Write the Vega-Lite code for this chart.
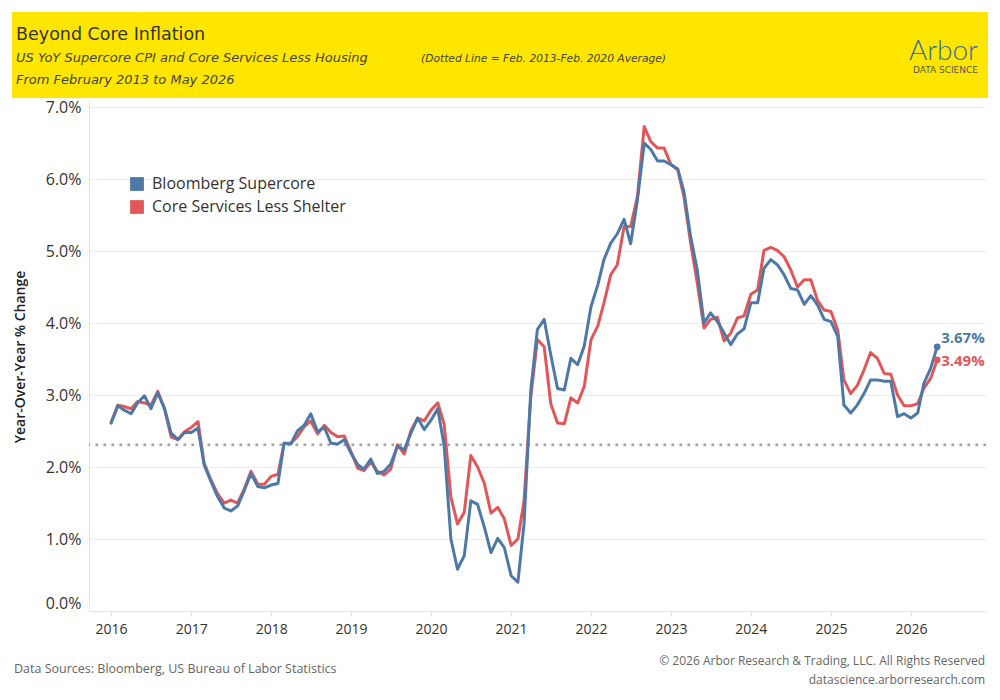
{
  "$schema": "https://vega.github.io/schema/vega-lite/v6.json",
  "background": "white",
  "padding": {"left": 12, "top": 12, "right": 12, "bottom": 0},
  "config": {"view": {"stroke": null}, "font": "Open Sans"},
  "spacing": -2,
  "vconcat": [
    {
      "spacing": 0,
      "hconcat": [
        {
          "width": 404, "height": 86,
          "view": {"fill": "#FFE600", "stroke": null},
          "data": {"values": [{}]},
          "mark": {"type": "text"},
          "encoding": {},
          "title": {
            "text": "Beyond Core Inflation",
            "subtitle": ["US YoY Supercore CPI and Core Services Less Housing", "From February 2013 to May 2026"],
            "orient": "top", "anchor": "start", "frame": "group", "offset": -75, "dx": 4,
            "font": "DejaVu Sans", "fontSize": 17.5, "fontWeight": "normal", "color": "#333333",
            "subtitleFont": "DejaVu Sans", "subtitleFontSize": 13, "subtitleFontStyle": "italic",
            "subtitleColor": "#444444", "subtitlePadding": 9, "subtitleLineHeight": 21.6
          }
        },
        {
          "width": 472, "height": 86,
          "view": {"fill": "#FFE600", "stroke": null},
          "data": {"values": [{}]},
          "mark": {"type": "text"},
          "encoding": {},
          "title": {
            "text": "(Dotted Line = Feb. 2013-Feb. 2020 Average)",
            "orient": "top", "anchor": "start", "frame": "group", "offset": -53, "dx": 5,
            "font": "DejaVu Sans", "fontSize": 10.7, "fontStyle": "italic", "fontWeight": "normal", "color": "#444444"
          }
        },
        {
          "width": 100, "height": 86,
          "view": {"fill": "#FFE600", "stroke": null},
          "data": {"values": [{}]},
          "mark": {"type": "text"},
          "encoding": {},
          "title": {
            "text": "Arbor",
            "subtitle": "DATA SCIENCE",
            "orient": "top", "anchor": "end", "frame": "group", "offset": -63, "dx": -10,
            "font": "Lato", "fontSize": 28, "fontWeight": 300, "color": "#3A6EA5",
            "subtitleFont": "DejaVu Sans", "subtitleFontSize": 9, "subtitleColor": "#5B5B45", "subtitlePadding": 0
          }
        }
      ]
    },
    {
      "spacing": 0,
      "hconcat": [
        {
          "width": 1, "height": 1,
          "data": {"values": [{}]},
          "mark": {"type": "text"},
          "encoding": {}
        },
        {
          "width": 897,
          "height": 509,
          "data": {"values": [
            {"d": "2016-01-01", "Bloomberg Supercore": 0.0261, "Core Services Less Shelter": 0.0262},
            {"d": "2016-02-01", "Bloomberg Supercore": 0.0285, "Core Services Less Shelter": 0.0286},
            {"d": "2016-03-01", "Bloomberg Supercore": 0.0279, "Core Services Less Shelter": 0.0284},
            {"d": "2016-04-01", "Bloomberg Supercore": 0.0274, "Core Services Less Shelter": 0.0281},
            {"d": "2016-05-01", "Bloomberg Supercore": 0.0289, "Core Services Less Shelter": 0.0291},
            {"d": "2016-06-01", "Bloomberg Supercore": 0.0299, "Core Services Less Shelter": 0.0289},
            {"d": "2016-07-01", "Bloomberg Supercore": 0.0281, "Core Services Less Shelter": 0.0286},
            {"d": "2016-08-01", "Bloomberg Supercore": 0.0303, "Core Services Less Shelter": 0.0305},
            {"d": "2016-09-01", "Bloomberg Supercore": 0.0281, "Core Services Less Shelter": 0.0281},
            {"d": "2016-10-01", "Bloomberg Supercore": 0.0247, "Core Services Less Shelter": 0.0242},
            {"d": "2016-11-01", "Bloomberg Supercore": 0.0238, "Core Services Less Shelter": 0.0238},
            {"d": "2016-12-01", "Bloomberg Supercore": 0.0248, "Core Services Less Shelter": 0.0249},
            {"d": "2017-01-01", "Bloomberg Supercore": 0.0248, "Core Services Less Shelter": 0.0255},
            {"d": "2017-02-01", "Bloomberg Supercore": 0.0254, "Core Services Less Shelter": 0.0263},
            {"d": "2017-03-01", "Bloomberg Supercore": 0.0203, "Core Services Less Shelter": 0.0205},
            {"d": "2017-04-01", "Bloomberg Supercore": 0.0180, "Core Services Less Shelter": 0.0182},
            {"d": "2017-05-01", "Bloomberg Supercore": 0.0159, "Core Services Less Shelter": 0.0163},
            {"d": "2017-06-01", "Bloomberg Supercore": 0.0143, "Core Services Less Shelter": 0.0150},
            {"d": "2017-07-01", "Bloomberg Supercore": 0.0139, "Core Services Less Shelter": 0.0154},
            {"d": "2017-08-01", "Bloomberg Supercore": 0.0146, "Core Services Less Shelter": 0.0150},
            {"d": "2017-09-01", "Bloomberg Supercore": 0.0168, "Core Services Less Shelter": 0.0170},
            {"d": "2017-10-01", "Bloomberg Supercore": 0.0191, "Core Services Less Shelter": 0.0194},
            {"d": "2017-11-01", "Bloomberg Supercore": 0.0173, "Core Services Less Shelter": 0.0176},
            {"d": "2017-12-01", "Bloomberg Supercore": 0.0171, "Core Services Less Shelter": 0.0176},
            {"d": "2018-01-01", "Bloomberg Supercore": 0.0175, "Core Services Less Shelter": 0.0187},
            {"d": "2018-02-01", "Bloomberg Supercore": 0.0177, "Core Services Less Shelter": 0.0190},
            {"d": "2018-03-01", "Bloomberg Supercore": 0.0233, "Core Services Less Shelter": 0.0233},
            {"d": "2018-04-01", "Bloomberg Supercore": 0.0232, "Core Services Less Shelter": 0.0233},
            {"d": "2018-05-01", "Bloomberg Supercore": 0.0250, "Core Services Less Shelter": 0.0242},
            {"d": "2018-06-01", "Bloomberg Supercore": 0.0258, "Core Services Less Shelter": 0.0256},
            {"d": "2018-07-01", "Bloomberg Supercore": 0.0274, "Core Services Less Shelter": 0.0264},
            {"d": "2018-08-01", "Bloomberg Supercore": 0.0249, "Core Services Less Shelter": 0.0246},
            {"d": "2018-09-01", "Bloomberg Supercore": 0.0255, "Core Services Less Shelter": 0.0258},
            {"d": "2018-10-01", "Bloomberg Supercore": 0.0233, "Core Services Less Shelter": 0.0248},
            {"d": "2018-11-01", "Bloomberg Supercore": 0.0232, "Core Services Less Shelter": 0.0242},
            {"d": "2018-12-01", "Bloomberg Supercore": 0.0238, "Core Services Less Shelter": 0.0243},
            {"d": "2019-01-01", "Bloomberg Supercore": 0.0219, "Core Services Less Shelter": 0.0221},
            {"d": "2019-02-01", "Bloomberg Supercore": 0.0203, "Core Services Less Shelter": 0.0198},
            {"d": "2019-03-01", "Bloomberg Supercore": 0.0197, "Core Services Less Shelter": 0.0195},
            {"d": "2019-04-01", "Bloomberg Supercore": 0.0211, "Core Services Less Shelter": 0.0207},
            {"d": "2019-05-01", "Bloomberg Supercore": 0.0191, "Core Services Less Shelter": 0.0194},
            {"d": "2019-06-01", "Bloomberg Supercore": 0.0194, "Core Services Less Shelter": 0.0189},
            {"d": "2019-07-01", "Bloomberg Supercore": 0.0204, "Core Services Less Shelter": 0.0197},
            {"d": "2019-08-01", "Bloomberg Supercore": 0.0229, "Core Services Less Shelter": 0.0231},
            {"d": "2019-09-01", "Bloomberg Supercore": 0.0224, "Core Services Less Shelter": 0.0218},
            {"d": "2019-10-01", "Bloomberg Supercore": 0.0247, "Core Services Less Shelter": 0.0250},
            {"d": "2019-11-01", "Bloomberg Supercore": 0.0268, "Core Services Less Shelter": 0.0268},
            {"d": "2019-12-01", "Bloomberg Supercore": 0.0252, "Core Services Less Shelter": 0.0264},
            {"d": "2020-01-01", "Bloomberg Supercore": 0.0265, "Core Services Less Shelter": 0.0279},
            {"d": "2020-02-01", "Bloomberg Supercore": 0.0281, "Core Services Less Shelter": 0.0289},
            {"d": "2020-03-01", "Bloomberg Supercore": 0.0230, "Core Services Less Shelter": 0.0260},
            {"d": "2020-04-01", "Bloomberg Supercore": 0.0100, "Core Services Less Shelter": 0.0158},
            {"d": "2020-05-01", "Bloomberg Supercore": 0.0058, "Core Services Less Shelter": 0.0121},
            {"d": "2020-06-01", "Bloomberg Supercore": 0.0077, "Core Services Less Shelter": 0.0137},
            {"d": "2020-07-01", "Bloomberg Supercore": 0.0153, "Core Services Less Shelter": 0.0216},
            {"d": "2020-08-01", "Bloomberg Supercore": 0.0148, "Core Services Less Shelter": 0.0200},
            {"d": "2020-09-01", "Bloomberg Supercore": 0.0116, "Core Services Less Shelter": 0.0177},
            {"d": "2020-10-01", "Bloomberg Supercore": 0.0081, "Core Services Less Shelter": 0.0136},
            {"d": "2020-11-01", "Bloomberg Supercore": 0.0101, "Core Services Less Shelter": 0.0144},
            {"d": "2020-12-01", "Bloomberg Supercore": 0.0088, "Core Services Less Shelter": 0.0128},
            {"d": "2021-01-01", "Bloomberg Supercore": 0.0049, "Core Services Less Shelter": 0.0091},
            {"d": "2021-02-01", "Bloomberg Supercore": 0.0040, "Core Services Less Shelter": 0.0100},
            {"d": "2021-03-01", "Bloomberg Supercore": 0.0121, "Core Services Less Shelter": 0.0153},
            {"d": "2021-04-01", "Bloomberg Supercore": 0.0307, "Core Services Less Shelter": 0.0298},
            {"d": "2021-05-01", "Bloomberg Supercore": 0.0391, "Core Services Less Shelter": 0.0377},
            {"d": "2021-06-01", "Bloomberg Supercore": 0.0405, "Core Services Less Shelter": 0.0367},
            {"d": "2021-07-01", "Bloomberg Supercore": 0.0356, "Core Services Less Shelter": 0.0288},
            {"d": "2021-08-01", "Bloomberg Supercore": 0.0309, "Core Services Less Shelter": 0.0261},
            {"d": "2021-09-01", "Bloomberg Supercore": 0.0307, "Core Services Less Shelter": 0.0260},
            {"d": "2021-10-01", "Bloomberg Supercore": 0.0351, "Core Services Less Shelter": 0.0296},
            {"d": "2021-11-01", "Bloomberg Supercore": 0.0342, "Core Services Less Shelter": 0.0289},
            {"d": "2021-12-01", "Bloomberg Supercore": 0.0368, "Core Services Less Shelter": 0.0312},
            {"d": "2022-01-01", "Bloomberg Supercore": 0.0423, "Core Services Less Shelter": 0.0377},
            {"d": "2022-02-01", "Bloomberg Supercore": 0.0453, "Core Services Less Shelter": 0.0396},
            {"d": "2022-03-01", "Bloomberg Supercore": 0.0488, "Core Services Less Shelter": 0.0428},
            {"d": "2022-04-01", "Bloomberg Supercore": 0.0511, "Core Services Less Shelter": 0.0467},
            {"d": "2022-05-01", "Bloomberg Supercore": 0.0524, "Core Services Less Shelter": 0.0481},
            {"d": "2022-06-01", "Bloomberg Supercore": 0.0544, "Core Services Less Shelter": 0.0534},
            {"d": "2022-07-01", "Bloomberg Supercore": 0.0510, "Core Services Less Shelter": 0.0534},
            {"d": "2022-08-01", "Bloomberg Supercore": 0.0571, "Core Services Less Shelter": 0.0576},
            {"d": "2022-09-01", "Bloomberg Supercore": 0.0650, "Core Services Less Shelter": 0.0673},
            {"d": "2022-10-01", "Bloomberg Supercore": 0.0641, "Core Services Less Shelter": 0.0652},
            {"d": "2022-11-01", "Bloomberg Supercore": 0.0625, "Core Services Less Shelter": 0.0643},
            {"d": "2022-12-01", "Bloomberg Supercore": 0.0625, "Core Services Less Shelter": 0.0643},
            {"d": "2023-01-01", "Bloomberg Supercore": 0.0620, "Core Services Less Shelter": 0.0620},
            {"d": "2023-02-01", "Bloomberg Supercore": 0.0614, "Core Services Less Shelter": 0.0613},
            {"d": "2023-03-01", "Bloomberg Supercore": 0.0583, "Core Services Less Shelter": 0.0576},
            {"d": "2023-04-01", "Bloomberg Supercore": 0.0520, "Core Services Less Shelter": 0.0511},
            {"d": "2023-05-01", "Bloomberg Supercore": 0.0474, "Core Services Less Shelter": 0.0456},
            {"d": "2023-06-01", "Bloomberg Supercore": 0.0400, "Core Services Less Shelter": 0.0393},
            {"d": "2023-07-01", "Bloomberg Supercore": 0.0414, "Core Services Less Shelter": 0.0405},
            {"d": "2023-08-01", "Bloomberg Supercore": 0.0402, "Core Services Less Shelter": 0.0408},
            {"d": "2023-09-01", "Bloomberg Supercore": 0.0386, "Core Services Less Shelter": 0.0375},
            {"d": "2023-10-01", "Bloomberg Supercore": 0.0370, "Core Services Less Shelter": 0.0386},
            {"d": "2023-11-01", "Bloomberg Supercore": 0.0385, "Core Services Less Shelter": 0.0407},
            {"d": "2023-12-01", "Bloomberg Supercore": 0.0392, "Core Services Less Shelter": 0.0410},
            {"d": "2024-01-01", "Bloomberg Supercore": 0.0428, "Core Services Less Shelter": 0.0440},
            {"d": "2024-02-01", "Bloomberg Supercore": 0.0428, "Core Services Less Shelter": 0.0446},
            {"d": "2024-03-01", "Bloomberg Supercore": 0.0476, "Core Services Less Shelter": 0.0501},
            {"d": "2024-04-01", "Bloomberg Supercore": 0.0488, "Core Services Less Shelter": 0.0505},
            {"d": "2024-05-01", "Bloomberg Supercore": 0.0481, "Core Services Less Shelter": 0.0501},
            {"d": "2024-06-01", "Bloomberg Supercore": 0.0467, "Core Services Less Shelter": 0.0492},
            {"d": "2024-07-01", "Bloomberg Supercore": 0.0448, "Core Services Less Shelter": 0.0474},
            {"d": "2024-08-01", "Bloomberg Supercore": 0.0446, "Core Services Less Shelter": 0.0450},
            {"d": "2024-09-01", "Bloomberg Supercore": 0.0426, "Core Services Less Shelter": 0.0460},
            {"d": "2024-10-01", "Bloomberg Supercore": 0.0438, "Core Services Less Shelter": 0.0460},
            {"d": "2024-11-01", "Bloomberg Supercore": 0.0425, "Core Services Less Shelter": 0.0431},
            {"d": "2024-12-01", "Bloomberg Supercore": 0.0405, "Core Services Less Shelter": 0.0418},
            {"d": "2025-01-01", "Bloomberg Supercore": 0.0402, "Core Services Less Shelter": 0.0416},
            {"d": "2025-02-01", "Bloomberg Supercore": 0.0381, "Core Services Less Shelter": 0.0390},
            {"d": "2025-03-01", "Bloomberg Supercore": 0.0286, "Core Services Less Shelter": 0.0321},
            {"d": "2025-04-01", "Bloomberg Supercore": 0.0275, "Core Services Less Shelter": 0.0302},
            {"d": "2025-05-01", "Bloomberg Supercore": 0.0286, "Core Services Less Shelter": 0.0313},
            {"d": "2025-06-01", "Bloomberg Supercore": 0.0302, "Core Services Less Shelter": 0.0335},
            {"d": "2025-07-01", "Bloomberg Supercore": 0.0321, "Core Services Less Shelter": 0.0359},
            {"d": "2025-08-01", "Bloomberg Supercore": 0.0321, "Core Services Less Shelter": 0.0351},
            {"d": "2025-09-01", "Bloomberg Supercore": 0.0319, "Core Services Less Shelter": 0.0330},
            {"d": "2025-10-01", "Bloomberg Supercore": 0.0319, "Core Services Less Shelter": 0.0329},
            {"d": "2025-11-01", "Bloomberg Supercore": 0.0270, "Core Services Less Shelter": 0.0300},
            {"d": "2025-12-01", "Bloomberg Supercore": 0.0274, "Core Services Less Shelter": 0.0285},
            {"d": "2026-01-01", "Bloomberg Supercore": 0.0268, "Core Services Less Shelter": 0.0285},
            {"d": "2026-02-01", "Bloomberg Supercore": 0.0275, "Core Services Less Shelter": 0.0288},
            {"d": "2026-03-01", "Bloomberg Supercore": 0.0316, "Core Services Less Shelter": 0.0309},
            {"d": "2026-04-01", "Bloomberg Supercore": 0.0337, "Core Services Less Shelter": 0.0323},
            {"d": "2026-05-01", "Bloomberg Supercore": 0.0367, "Core Services Less Shelter": 0.0349}
          ]},
          "layer": [
            {
              "data": {"values": [{"avg": 0.0231}]},
              "mark": {"type": "rule", "color": "#A0A0A0", "strokeDash": [2.5, 5.5], "strokeWidth": 2.5},
              "encoding": {"y": {"field": "avg", "type": "quantitative", "title": "Year-Over-Year % Change"}}
            },
            {
              "transform": [{"fold": ["Core Services Less Shelter", "Bloomberg Supercore"], "as": ["series", "value"]}],
              "mark": {"type": "line", "strokeWidth": 3, "strokeJoin": "round", "strokeCap": "round"},
              "encoding": {
                "x": {
                  "field": "d", "type": "temporal", "title": null,
                  "scale": {"type": "utc", "domain": [{"year": 2015, "month": 9, "date": 22, "utc": true}, {"year": 2026, "month": 12, "date": 10, "utc": true}]},
                  "axis": {
                    "format": "%Y", "tickCount": {"interval": "year", "step": 1}, "grid": false,
                    "domain": true, "domainColor": "#E2E2E2", "ticks": true, "tickColor": "#E2E2E2", "tickSize": 5,
                    "labelFont": "Open Sans", "labelFontSize": 14, "labelColor": "#333333", "labelPadding": 6, "labelFlush": false
                  }
                },
                "y": {
                  "field": "value", "type": "quantitative", "title": "Year-Over-Year % Change",
                  "scale": {"domain": [0, 0.0707], "nice": false, "zero": false},
                  "axis": {
                    "values": [0, 0.01, 0.02, 0.03, 0.04, 0.05, 0.06, 0.07], "format": ".1%",
                    "grid": true, "gridColor": "#EDEDED", "domain": true, "domainColor": "#E2E2E2", "ticks": false,
                    "labelFont": "Open Sans", "labelFontSize": 16, "labelColor": "#333333", "labelPadding": 8, "labelFlush": true,
                    "titleFont": "Open Sans", "titleFontSize": 14, "titleFontWeight": 600, "titleColor": "#222222", "titlePadding": 18
                  }
                },
                "color": {
                  "field": "series", "type": "nominal",
                  "scale": {"domain": ["Bloomberg Supercore", "Core Services Less Shelter"], "range": ["#4E79A7", "#E15759"]},
                  "legend": {
                    "title": null, "orient": "none", "legendX": 117, "legendY": 164,
                    "symbolType": "square", "symbolSize": 190, "symbolStrokeWidth": 0,
                    "labelFont": "Open Sans", "labelFontSize": 16, "labelColor": "#333333", "labelOffset": 7, "rowPadding": 7, "labelLimit": 400,
                    "encode": {"symbols": {"update": {"fill": {"scale": "color", "field": "value"}, "fillOpacity": {"value": 1}, "strokeWidth": {"value": 0}}}}
                  }
                }
              }
            },
            {
              "transform": [
                {"fold": ["Core Services Less Shelter", "Bloomberg Supercore"], "as": ["series", "value"]},
                {"filter": "time(datum.d) === utc(2026, 4, 1)"}
              ],
              "mark": {"type": "point", "filled": true, "size": 45, "opacity": 1},
              "encoding": {
                "x": {"field": "d", "type": "temporal", "title": null},
                "y": {"field": "value", "type": "quantitative", "title": "Year-Over-Year % Change"},
                "color": {"field": "series", "type": "nominal", "legend": null}
              }
            },
            {
              "transform": [
                {"fold": ["Core Services Less Shelter", "Bloomberg Supercore"], "as": ["series", "value"]},
                {"filter": "time(datum.d) === utc(2026, 4, 1) && datum.series === 'Bloomberg Supercore'"}
              ],
              "mark": {"type": "text", "align": "left", "baseline": "middle", "dx": 4, "dy": -9, "font": "Open Sans", "fontSize": 15, "fontWeight": "bold"},
              "encoding": {
                "x": {"field": "d", "type": "temporal", "title": null},
                "y": {"field": "value", "type": "quantitative", "title": "Year-Over-Year % Change"},
                "color": {"field": "series", "type": "nominal", "legend": null},
                "text": {"field": "value", "type": "quantitative", "format": ".2%"}
              }
            },
            {
              "transform": [
                {"fold": ["Core Services Less Shelter", "Bloomberg Supercore"], "as": ["series", "value"]},
                {"filter": "time(datum.d) === utc(2026, 4, 1) && datum.series === 'Core Services Less Shelter'"}
              ],
              "mark": {"type": "text", "align": "left", "baseline": "middle", "dx": 4, "dy": 1, "font": "Open Sans", "fontSize": 15, "fontWeight": "bold"},
              "encoding": {
                "x": {"field": "d", "type": "temporal", "title": null},
                "y": {"field": "value", "type": "quantitative", "title": "Year-Over-Year % Change"},
                "color": {"field": "series", "type": "nominal", "legend": null},
                "text": {"field": "value", "type": "quantitative", "format": ".2%"}
              }
            }
          ]
        }
      ]
    },
    {
      "spacing": 0,
      "hconcat": [
        {
          "width": 488, "height": 1,
          "data": {"values": [{}]},
          "mark": {"type": "text"},
          "encoding": {},
          "title": {
            "text": "Data Sources: Bloomberg, US Bureau of Labor Statistics",
            "orient": "bottom", "anchor": "start", "frame": "group", "offset": 17, "dx": 2,
            "font": "Open Sans", "fontSize": 12.5, "fontWeight": "normal", "color": "#666666"
          }
        },
        {
          "width": 488, "height": 1,
          "data": {"values": [{}]},
          "mark": {"type": "text"},
          "encoding": {},
          "title": {
            "text": ["© 2026 Arbor Research & Trading, LLC. All Rights Reserved", "datascience.arborresearch.com"],
            "orient": "bottom", "anchor": "end", "frame": "group", "offset": 10, "dx": -3,
            "font": "Open Sans", "fontSize": 12, "fontWeight": "normal", "color": "#666666", "lineHeight": 19
          }
        }
      ]
    }
  ]
}
